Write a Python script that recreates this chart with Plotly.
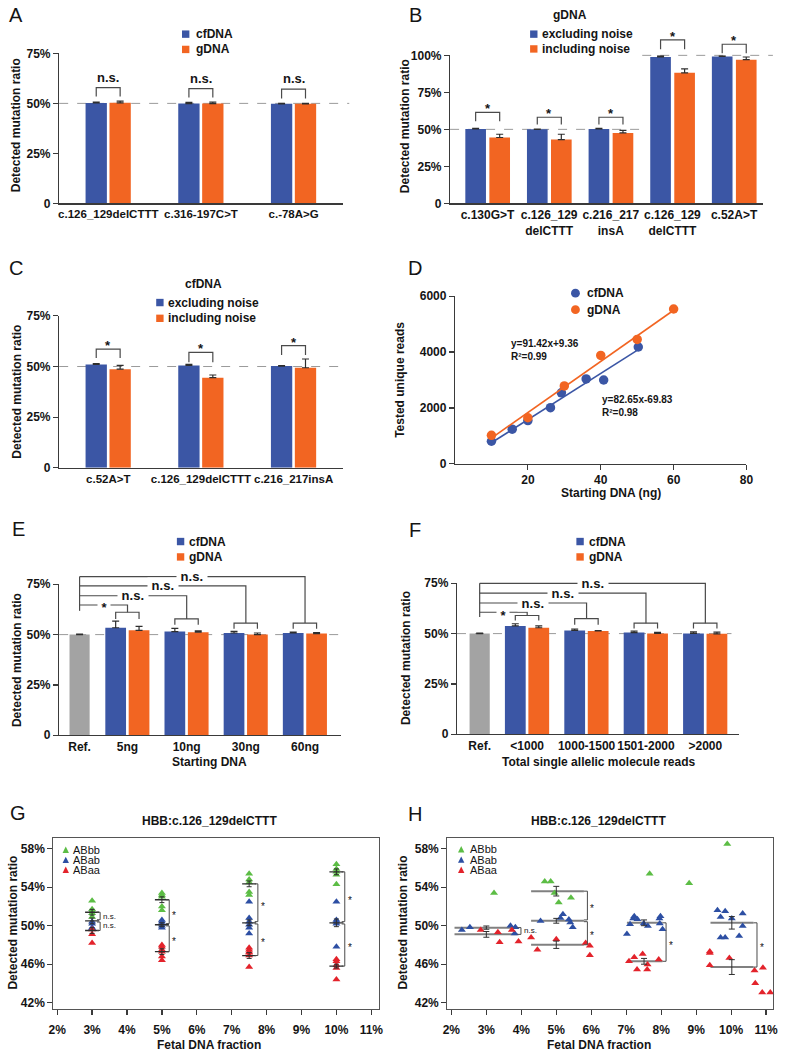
import plotly.graph_objects as go

W, H = 785, 1059
FONT = "Liberation Sans, Arial, Helvetica, sans-serif"
TXT = "#141414"
AXC = "#3a3a3a"
LINEC = "#4a4a4a"
BLUE = "#3b56a5"
ORANGE = "#f26522"
GREY = "#a3a3a3"
DASHC = "#9a9a9a"
ERRC = "#2e2e2e"
G_GREEN = "#5cbd45"
G_BLUE = "#2d4fa3"
G_RED = "#e3232b"

# ======================= DATA =======================
# A
A_CATS = ["c.126_129delCTTT", "c.316-197C>T", "c.-78A>G"]
A_CFDNA = [50.2, 49.9, 49.8]
A_CFDNA_ERR = [0.5, 0.6, 0.2]
A_GDNA = [50.3, 49.9, 49.8]
A_GDNA_ERR = [0.8, 0.7, 0.2]
A_SIG = ["n.s.", "n.s.", "n.s."]

# B (gDNA)
B_CATS = ["c.130G>T", "c.126_129\ndelCTTT", "c.216_217\ninsA", "c.126_129\ndelCTTT", "c.52A>T"]
B_EXCL = [50.3, 50.0, 50.3, 98.9, 99.3]
B_EXCL_ERR = [0.4, 0.2, 0.3, 0.8, 0.4]
B_INCL = [44.5, 43.1, 47.6, 88.2, 97.1]
B_INCL_ERR = [2.2, 3.6, 1.7, 2.7, 1.8]
B_SIG = ["*", "*", "*", "*", "*"]

# C (cfDNA)
C_CATS = ["c.52A>T", "c.126_129delCTTT", "c.216_217insA"]
C_EXCL = [51.0, 50.5, 50.2]
C_EXCL_ERR = [0.5, 0.6, 0.2]
C_INCL = [48.7, 44.5, 49.4]
C_INCL_ERR = [1.9, 1.3, 4.3]
C_SIG = ["*", "*", "*"]

# D
D_CF_X = [10, 15.7, 20, 26.2, 29.2, 36, 40.8, 50.3]
D_CF_Y = [810, 1240, 1550, 2010, 2540, 3040, 3000, 4180]
D_G_X = [10, 20, 30, 40, 50, 60]
D_G_Y = [1020, 1650, 2790, 3880, 4450, 5540]
D_CF_FIT = (82.65, -69.83, 0.98)
D_G_FIT = (91.42, 9.36, 0.99)

# E
E_CATS = ["Ref.", "5ng", "10ng", "30ng", "60ng"]
E_REF = 50.0
E_REF_ERR = 0.2
E_CF = [53.4, 51.5, 50.8, 50.8]
E_CF_ERR = [3.3, 1.6, 0.8, 0.5]
E_G = [52.1, 51.2, 50.0, 50.5]
E_G_ERR = [2.0, 0.6, 0.8, 0.5]
E_SIG = ["*", "n.s.", "n.s.", "n.s."]

# F
F_CATS = ["Ref.", "<1000", "1000-1500", "1501-2000", ">2000"]
F_REF = 50.0
F_REF_ERR = 0.2
F_CF = [53.8, 51.6, 50.5, 50.1]
F_CF_ERR = [1.1, 0.7, 0.7, 0.8]
F_G = [52.9, 51.3, 50.1, 49.9]
F_G_ERR = [0.9, 0.2, 0.5, 0.8]
F_SIG = ["*", "n.s.", "n.s.", "n.s."]

# G
GENOS = ["ABbb", "ABab", "ABaa"]
G_FRAC = [3, 5, 7.5, 10]
G_ABbb = [[52.6, 51.7, 51.5, 51.3, 50.9], [53.4, 53.2, 53.0, 52.0, 51.6],
          [55.4, 54.8, 54.5, 53.5, 53.2], [56.4, 55.9, 55.6, 55.3, 54.3]]
G_ABab = [[50.4, 50.2, 49.8, 49.7], [50.6, 50.4, 50.2, 50.0, 49.8],
          [52.5, 50.8, 50.4, 50.1, 49.8, 49.2], [52.5, 50.6, 50.4, 50.2, 47.8]]
G_ABaa = [[49.6, 49.1, 48.2], [48.0, 47.8, 47.5, 47.3, 46.8, 46.4],
          [47.7, 47.5, 47.3, 47.2, 46.9, 45.7], [46.5, 46.3, 45.9, 45.6, 44.4]]
G_MEAN = {"ABbb": [51.4, 52.7, 54.35, 55.6], "ABab": [50.5, 50.1, 50.3, 50.3], "ABaa": [49.5, 47.3, 46.9, 45.8]}
G_SE = {"ABbb": [0.3, 0.3, 0.3, 0.3], "ABab": [0.3, 0.2, 0.3, 0.4], "ABaa": [0.3, 0.3, 0.3, 0.2]}
G_SIG_UP = ["n.s.", "*", "*", "*"]
G_SIG_LO = ["n.s.", "*", "*", "*"]

# H
H_ABbb_X = [3.22, 4.67, 4.84, 4.95, 5.07, 5.42, 7.67, 8.80, 9.89]
H_ABbb_Y = [53.4, 54.6, 54.6, 53.4, 52.4, 52.9, 55.4, 54.4, 58.5]
H_ABab_X = [2.30, 2.53, 3.69, 3.83, 3.81, 4.55, 5.12, 5.19, 5.36, 5.40, 5.47,
            7.02, 7.11, 7.20, 7.23, 7.32, 7.50, 7.62, 7.95, 7.98, 7.96, 8.04,
            9.61, 9.70, 9.83, 9.70, 9.83, 10.02, 10.23, 10.33, 10.33]
H_ABab_Y = [49.56, 49.83, 50.0, 49.83, 49.2, 50.5, 50.8, 51.2, 50.65, 50.34, 49.83,
            49.15, 50.14, 50.75, 50.99, 50.68, 50.24, 49.97, 50.75, 50.99, 50.24, 49.62,
            51.6, 50.9, 51.5, 48.77, 48.77, 50.75, 48.94, 51.26, 49.97]
H_ABaa_X = [2.84, 3.33, 3.38, 3.73, 3.92, 4.28, 4.46, 5.0, 5.84, 5.96, 5.96,
            7.08, 7.23, 7.31, 7.47, 7.61, 7.60, 7.93,
            9.39, 9.39, 9.39, 9.95, 10.67, 10.91, 10.69, 10.89, 11.12]
H_ABaa_Y = [49.56, 49.32, 48.29, 49.56, 48.36, 48.77, 47.5, 48.6, 48.19, 47.91, 46.92,
            46.31, 46.72, 45.45, 47.06, 45.97, 45.45, 46.48,
            47.33, 47.16, 45.9, 46.65, 45.35, 45.62, 44.02, 43.06, 43.06]
H_GROUP_X = [3.0, 5.0, 7.51, 10.02]
H_MEAN = {"ABbb": [None, 53.59, None, None], "ABab": [49.8, 50.51, 50.3, 50.3], "ABaa": [49.1, 48.02, 46.3, 45.7]}
H_SE = {"ABbb": [None, 0.5, None, None], "ABab": [0.17, 0.25, 0.3, 0.65], "ABaa": [0.3, 0.38, 0.3, 0.77]}
H_SIG_UP = [None, "*", None, None]
H_SIG_LO = ["n.s.", "*", "*", "*"]

# ======================= GEOMETRY (layout only) =======================
PANELS = {
    "A": dict(ax=1, x0=55, x1=343, yt=47, yb=199, xr=(-0.53, 2.53), yr=(0, 75)),
    "B": dict(ax=2, x0=452, x1=770, yt=49, yb=199, xr=(-0.607, 4.473), yr=(0, 100)),
    "C": dict(ax=3, x0=55, x1=343, yt=313, yb=467, xr=(-0.53, 2.53), yr=(0, 75)),
    "D": dict(ax=4, x0=457, x1=753, yt=293, yb=463, xr=(0, 80), yr=(0, 6000)),
    "E": dict(ax=5, x0=55, x1=341, yt=585, yb=738, xr=(-0.155, 4.604), yr=(0, 75)),
    "F": dict(ax=6, x0=459, x1=745, yt=584, yb=737, xr=(-0.182, 4.56), yr=(0, 75)),
    "G": dict(ax=7, x0=49, x1=380, yt=842, yb=1015, xr=(1.887, 11.226), yr=(41.385, 59.13)),
    "H": dict(ax=8, x0=449, x1=780, yt=842, yb=1015, xr=(1.879, 11.2), yr=(41.385, 59.13)),
}
AC_BL_OFF, AC_OR_OFF, AC_W = -0.245, 0.013, 0.23
B_BL_OFF, B_OR_OFF, B_W = -0.36, 0.03, 0.335
EF_BL_OFF, EF_OR_OFF, EF_W = -0.375, 0.02, 0.35
EF_REF_W = 0.34
E_POS = [0.19, 1, 2, 3, 4]
F_POS = [0.2, 1, 2, 3, 4]

fig = go.Figure()
shapes, annotations = [], []


def refs(n):
    return ("x" if n == 1 else f"x{n}"), ("y" if n == 1 else f"y{n}")


def esc(s):
    return s.replace("<", "&lt;").replace(">", "&gt;").replace("\n", "<br>")


def to_paper(pn, x, y):
    g = PANELS[pn]
    fx = (x - g["xr"][0]) / (g["xr"][1] - g["xr"][0])
    fy = (y - g["yr"][0]) / (g["yr"][1] - g["yr"][0])
    px = g["x0"] + fx * (g["x1"] - g["x0"])
    py = g["yb"] - fy * (g["yb"] - g["yt"])
    return px / W, 1 - py / H


def poly(pn, pts, color=LINEC, width=1.2, dash=None, layer="above"):
    c = [to_paper(pn, x, y) for x, y in pts]
    path = "M " + " L ".join(f"{a:.5f},{b:.5f}" for a, b in c)
    shapes.append(dict(type="path", path=path, xref="paper", yref="paper", layer=layer,
                       line=dict(color=color, width=width, dash=dash)))


def txt(xp, yp, s, size=12, bold=True, color=TXT, xa="center", ya="middle", angle=0, bg=None, align="center"):
    annotations.append(dict(x=xp, y=yp, xref="paper", yref="paper", text=s, showarrow=False, align=align,
                            font=dict(family=FONT, size=size, color=color, weight="bold" if bold else "normal"),
                            xanchor=xa, yanchor=ya, textangle=angle, bgcolor=bg, borderpad=0))


def txt_px(px, py, s, **kw):
    txt(px / W, 1 - py / H, s, **kw)


def data_txt(pn, x, y, s, dy_px=0, **kw):
    a, b = to_paper(pn, x, y)
    txt(a, b + dy_px / H, s, **kw)


def sq_px(cx, cy, color, s=7.5):
    shapes.append(dict(type="rect", xref="paper", yref="paper", x0=(cx - s / 2) / W, x1=(cx + s / 2) / W,
                       y0=1 - (cy + s / 2) / H, y1=1 - (cy - s / 2) / H, fillcolor=color, line=dict(width=0)))


def circ_px(cx, cy, color, s=9):
    shapes.append(dict(type="circle", xref="paper", yref="paper", x0=(cx - s / 2) / W, x1=(cx + s / 2) / W,
                       y0=1 - (cy + s / 2) / H, y1=1 - (cy - s / 2) / H, fillcolor=color, line=dict(width=0)))


def tri_px(cx, cy, color, s=6.5):
    p = [(cx, cy - s / 2), (cx - s / 2, cy + s / 2), (cx + s / 2, cy + s / 2)]
    path = "M " + " L ".join(f"{x / W:.5f},{1 - y / H:.5f}" for x, y in p) + " Z"
    shapes.append(dict(type="path", path=path, xref="paper", yref="paper", fillcolor=color, line=dict(width=0)))


def add_bars(pn, pos, vals, errs, color, offset, width):
    xa, ya = refs(PANELS[pn]["ax"])
    fig.add_trace(go.Bar(x=pos, y=vals, xaxis=xa, yaxis=ya, offset=offset, width=width,
                         marker=dict(color=color, line=dict(width=0)), showlegend=False,
                         error_y=dict(type="data", symmetric=False, array=errs, arrayminus=[0] * len(errs),
                                      color=ERRC, thickness=1.2, width=3.5)))


def pair_brackets(pn, pos, off_b, off_o, w, tops, legs, sigs, dy):
    for i, p in enumerate(pos):
        xl, xr = p + off_b + w / 2, p + off_o + w / 2
        poly(pn, [(xl, legs[i]), (xl, tops[i]), (xr, tops[i]), (xr, legs[i])])
        data_txt(pn, (xl + xr) / 2, tops[i], sigs[i], dy_px=dy[sigs[i]], size=13)


SIG_DY = {"n.s.": 10.5, "*": 3.5}

# ---------------- Panel A ----------------
A_POS = list(range(len(A_CATS)))
add_bars("A", A_POS, A_CFDNA, A_CFDNA_ERR, BLUE, AC_BL_OFF, AC_W)
add_bars("A", A_POS, A_GDNA, A_GDNA_ERR, ORANGE, AC_OR_OFF, AC_W)
poly("A", [(PANELS["A"]["xr"][0], 50), (2.6, 50)], color=DASHC, width=1, dash="dash", layer="below")
pair_brackets("A", A_POS, AC_BL_OFF, AC_OR_OFF, AC_W, [57.9, 57.4, 57.1], [53.4, 52.9, 52.4], A_SIG, SIG_DY)

# ---------------- Panel B ----------------
B_POS = list(range(len(B_CATS)))
add_bars("B", B_POS, B_EXCL, B_EXCL_ERR, BLUE, B_BL_OFF, B_W)
add_bars("B", B_POS, B_INCL, B_INCL_ERR, ORANGE, B_OR_OFF, B_W)
poly("B", [(PANELS["B"]["xr"][0], 50), (2.51, 50)], color=DASHC, width=1, dash="dash", layer="below")
poly("B", [(2.51, 100), (4.63, 100)], color=DASHC, width=1, dash="dash", layer="below")
pair_brackets("B", B_POS, B_BL_OFF, B_OR_OFF, B_W, [61.5, 58.2, 58.2, 110.4, 107.5],
              [55.5, 53.3, 53.3, 104.2, 101.5], B_SIG, SIG_DY)

# ---------------- Panel C ----------------
C_POS = list(range(len(C_CATS)))
add_bars("C", C_POS, C_EXCL, C_EXCL_ERR, BLUE, AC_BL_OFF, AC_W)
add_bars("C", C_POS, C_INCL, C_INCL_ERR, ORANGE, AC_OR_OFF, AC_W)
poly("C", [(PANELS["C"]["xr"][0], 50), (2.5, 50)], color=DASHC, width=1, dash="dash", layer="below")
pair_brackets("C", C_POS, AC_BL_OFF, AC_OR_OFF, AC_W, [58.6, 57.0, 60.3], [54.2, 52.1, 55.7], C_SIG, SIG_DY)

# ---------------- Panel D ----------------
xa, ya = refs(4)
for (xs, ys, fit, col) in [(D_CF_X, D_CF_Y, D_CF_FIT, BLUE), (D_G_X, D_G_Y, D_G_FIT, ORANGE)]:
    fx = [min(xs), max(xs)]
    fig.add_trace(go.Scatter(x=fx, y=[fit[0] * v + fit[1] for v in fx], mode="lines", xaxis=xa, yaxis=ya,
                             line=dict(color=col, width=1.6), showlegend=False))
    fig.add_trace(go.Scatter(x=xs, y=ys, mode="markers", xaxis=xa, yaxis=ya, cliponaxis=False,
                             marker=dict(color=col, size=9.5, line=dict(width=0)), showlegend=False))
txt_px(513, 334, f"y={D_G_FIT[0]}x+{D_G_FIT[1]}<br>R²={D_G_FIT[2]}", size=10, xa="left", ya="top", align="left")
txt_px(605, 391, f"y={D_CF_FIT[0]}x{D_CF_FIT[1]}<br>R²={D_CF_FIT[2]}", size=10, xa="left", ya="top", align="left")

# ---------------- Panels E & F ----------------
def ef_panel(pn, pos, ref, ref_err, cf, cf_err, gg, gg_err, line_y, small_top, small_leg, ref_bottom, sigs, dash_end):
    add_bars(pn, [pos[0]], [ref], [ref_err], GREY, -EF_REF_W / 2, EF_REF_W)
    add_bars(pn, pos[1:], cf, cf_err, BLUE, EF_BL_OFF, EF_W)
    add_bars(pn, pos[1:], gg, gg_err, ORANGE, EF_OR_OFF, EF_W)
    poly(pn, [(PANELS[pn]["xr"][0], 50), (dash_end, 50)], color=DASHC, width=1, dash="dash", layer="below")
    rx = pos[0]
    poly(pn, [(rx, max(line_y)), (rx, ref_bottom)])
    for i, gx in enumerate(pos[1:]):
        poly(pn, [(rx, line_y[i]), (gx, line_y[i]), (gx, small_top[i])])
        xl, xr = gx + EF_BL_OFF + EF_W / 2, gx + EF_OR_OFF + EF_W / 2
        poly(pn, [(xl, small_leg[i]), (xl, small_top[i]), (xr, small_top[i]), (xr, small_leg[i])])
    for i, gx in enumerate(pos[1:]):
        s = sigs[i]
        data_txt(pn, (rx + gx) / 2, line_y[i], " " + s + " ", dy_px=(0 if s != "*" else -3), size=13, bg="white")


ef_panel("E", E_POS, E_REF, E_REF_ERR, E_CF, E_CF_ERR, E_G, E_G_ERR,
         [64.7, 69.3, 74.2, 78.8], [61.1, 57.8, 55.7, 55.7], [57.8, 54.9, 52.9, 52.9], 61.8, E_SIG, 4.59)
ef_panel("F", F_POS, F_REF, F_REF_ERR, F_CF, F_CF_ERR, F_G, F_G_ERR,
         [60.6, 65.2, 70.1, 75.0], [59.0, 57.4, 55.2, 55.2], [56.5, 54.4, 52.5, 52.5], 58.3, F_SIG, 4.44)

# ---------------- Panel G ----------------
xa, ya = refs(7)
G_VALS = {"ABbb": G_ABbb, "ABab": G_ABab, "ABaa": G_ABaa}
G_COL = {"ABbb": G_GREEN, "ABab": G_BLUE, "ABaa": G_RED}
for gname in GENOS:
    xs, ys = [], []
    for f, vals in zip(G_FRAC, G_VALS[gname]):
        xs += [f] * len(vals)
        ys += vals
    fig.add_trace(go.Scatter(x=xs, y=ys, mode="markers", xaxis=xa, yaxis=ya, showlegend=False,
                             marker=dict(symbol="triangle-up", size=7, color=G_COL[gname], line=dict(width=0))))
for gname in GENOS:
    fig.add_trace(go.Scatter(x=G_FRAC, y=G_MEAN[gname], mode="markers", xaxis=xa, yaxis=ya, showlegend=False,
                             marker=dict(symbol="line-ew", size=10, color=ERRC, line=dict(width=1.3, color=ERRC)),
                             error_y=dict(type="data", array=G_SE[gname], color=ERRC, thickness=1, width=2.5)))
G_BR_X = [3.23, 5.21, 7.75, 10.24]
tick = 0.09
for i, bx in enumerate(G_BR_X):
    hi, mid, lo = G_MEAN["ABbb"][i], G_MEAN["ABab"][i], G_MEAN["ABaa"][i]
    gap = 0.12
    poly("G", [(bx - tick, hi), (bx, hi), (bx, mid + gap), (bx - tick, mid + gap)], width=1)
    poly("G", [(bx - tick, mid - gap), (bx, mid - gap), (bx, lo), (bx - tick, lo)], width=1)
    for s, yv in [(G_SIG_UP[i], (hi + mid) / 2), (G_SIG_LO[i], (mid + lo) / 2)]:
        if s == "n.s.":
            data_txt("G", bx + 0.06, yv, s, size=8, bold=False, xa="left")
        else:
            data_txt("G", bx + 0.15, yv, s, dy_px=-3, size=10, bold=False)

# ---------------- Panel H ----------------
xa, ya = refs(8)
H_PTS = {"ABbb": (H_ABbb_X, H_ABbb_Y), "ABab": (H_ABab_X, H_ABab_Y), "ABaa": (H_ABaa_X, H_ABaa_Y)}
H_SPAN = [(2.09, 3.92), (4.28, 5.75), (7.02, 8.14), (9.41, 10.63)]
H_BR_X = [3.99, 5.89, 8.14, 10.74]
for gname in GENOS:
    lx, ly = [], []
    for i, m in enumerate(H_MEAN[gname]):
        if m is None:
            continue
        lx += [H_SPAN[i][0], H_BR_X[i] - 0.1, None]
        ly += [m, m, None]
    if lx:
        fig.add_trace(go.Scatter(x=lx, y=ly, mode="lines", xaxis=xa, yaxis=ya, showlegend=False,
                                 line=dict(color="#808080", width=2)))
for gname in GENOS:
    xs, ys = H_PTS[gname]
    fig.add_trace(go.Scatter(x=xs, y=ys, mode="markers", xaxis=xa, yaxis=ya, showlegend=False, cliponaxis=False,
                             marker=dict(symbol="triangle-up", size=7, color=G_COL[gname], line=dict(width=0))))
for gname in GENOS:
    mx = [x for x, m in zip(H_GROUP_X, H_MEAN[gname]) if m is not None]
    my = [m for m in H_MEAN[gname] if m is not None]
    se = [s for s in H_SE[gname] if s is not None]
    fig.add_trace(go.Scatter(x=mx, y=my, mode="markers", xaxis=xa, yaxis=ya, showlegend=False,
                             marker=dict(size=1, color="rgba(0,0,0,0)"),
                             error_y=dict(type="data", array=se, color=ERRC, thickness=1, width=3)))
for i, bx in enumerate(H_BR_X):
    hi, mid, lo = H_MEAN["ABbb"][i], H_MEAN["ABab"][i], H_MEAN["ABaa"][i]
    gap = 0.09
    if hi is not None:
        poly("H", [(bx - 0.1, hi), (bx, hi), (bx, mid + gap), (bx - 0.1, mid + gap)], width=1)
        data_txt("H", bx + 0.14, (hi + mid) / 2, H_SIG_UP[i], dy_px=-3, size=10, bold=False)
        poly("H", [(bx - 0.1, mid - gap), (bx, mid - gap), (bx, lo), (bx - 0.1, lo)], width=1)
    else:
        poly("H", [(bx - 0.1, mid), (bx, mid), (bx, lo), (bx - 0.1, lo)], width=1)
    s = H_SIG_LO[i]
    if s == "n.s.":
        data_txt("H", bx + 0.06, (mid + lo) / 2, s, size=8, bold=False, xa="left")
    else:
        data_txt("H", bx + 0.14, (mid + lo) / 2, s, dy_px=-3, size=10, bold=False)

# ======================= AXES =======================
layout_axes = {}


def tf(size=12):
    return dict(family=FONT, size=size, color=TXT, weight="bold")


def set_axes(pn, xt, xtt, yt, ytt, xticks="", box=False, xfont=12, xstand=None):
    g = PANELS[pn]
    n = g["ax"]
    xk = "xaxis" if n == 1 else f"xaxis{n}"
    yk = "yaxis" if n == 1 else f"yaxis{n}"
    xa, ya = refs(n)
    common = dict(showgrid=False, zeroline=False, showline=True, linecolor=AXC, linewidth=1.2,
                  tickcolor=AXC, tickwidth=1.2, ticklen=5, mirror=box, fixedrange=True)
    layout_axes[xk] = dict(domain=[g["x0"] / W, g["x1"] / W], range=list(g["xr"]), anchor=ya,
                           tickmode="array", tickvals=xt, ticktext=xtt, ticks=xticks, tickangle=0,
                           tickfont=tf(xfont), **common)
    if xstand is not None:
        layout_axes[xk]["ticklabelstandoff"] = xstand
    layout_axes[yk] = dict(domain=[1 - g["yb"] / H, 1 - g["yt"] / H], range=list(g["yr"]), anchor=xa,
                           tickmode="array", tickvals=yt, ticktext=ytt, ticks="outside", tickfont=tf(12), **common)


PCT75 = ([0, 25, 50, 75], ["0", "25%", "50%", "75%"])
set_axes("A", A_POS, [esc(c) for c in A_CATS], *PCT75, xfont=11.5)
set_axes("B", B_POS, [esc(c) for c in B_CATS], [0, 25, 50, 75, 100], ["0", "25%", "50%", "75%", "100%"])
set_axes("C", C_POS, [esc(c) for c in C_CATS], *PCT75, xfont=11.5)
set_axes("D", [20, 40, 60, 80], ["20", "40", "60", "80"], [0, 2000, 4000, 6000], ["0", "2000", "4000", "6000"],
         xticks="outside", xstand=0)
set_axes("E", E_POS, [esc(c) for c in E_CATS], *PCT75)
set_axes("F", F_POS, [esc(c) for c in F_CATS], *PCT75)
PCTX = list(range(2, 12))
set_axes("G", PCTX, [f"{v}%" for v in PCTX], [42, 46, 50, 54, 58], ["42%", "46%", "50%", "54%", "58%"],
         xticks="outside", box=True, xstand=5)
set_axes("H", PCTX, [f"{v}%" for v in PCTX], [42, 46, 50, 54, 58], ["42%", "46%", "50%", "54%", "58%"],
         xticks="outside", box=True, xstand=5)
for k in ["xaxis7", "yaxis7", "xaxis8", "yaxis8"]:
    layout_axes[k]["linecolor"] = "#555555"
    layout_axes[k]["linewidth"] = 1

# ======================= TEXT: labels, titles, legends =======================
for lab, (x, y) in {"A": (11.5, 8), "B": (417, 8), "C": (11.5, 264), "D": (416, 265),
                    "E": (14, 529), "F": (416, 530), "G": (13.5, 817), "H": (416.5, 817.5)}.items():
    txt_px(x, y, lab, size=20, bold=False)

YT = "Detected mutation ratio"
for (x, y, s) in [(12, 120, YT), (407, 121, YT), (12, 390, YT), (401, 378, "Tested unique reads"),
                  (12, 662, YT), (407, 660, YT), (8, 928, YT), (404, 928, YT)]:
    txt_px(x, y, s, angle=-90)

txt_px(615, 493, "Starting DNA (ng)")
txt_px(207.5, 765, "Starting DNA")
txt_px(603, 765, "Total single allelic molecule reads")
txt_px(207.5, 1052, "Fetal DNA fraction")
txt_px(603, 1052, "Fetal DNA fraction")
txt_px(574, 8, "gDNA")
txt_px(201.7, 281, "cfDNA")
txt_px(208, 825, "HBB:c.126_129delCTTT")
txt_px(603, 825, "HBB:c.126_129delCTTT")

# legends
for (cx, cy1, cy2, tx, l1, l2) in [(183.5, 27.5, 43, 192.7, "cfDNA", "gDNA"),
                                    (537, 27.5, 42.5, 544, "excluding noise", "including noise"),
                                    (157.3, 299.5, 315.5, 165, "excluding noise", "including noise"),
                                    (178.3, 541.7, 557.3, 186, "cfDNA", "gDNA"),
                                    (584, 541.7, 557.3, 591.7, "cfDNA", "gDNA")]:
    sq_px(cx, cy1, BLUE)
    sq_px(cx, cy2, ORANGE)
    txt_px(tx, cy1, l1, xa="left")
    txt_px(tx, cy2, l2, xa="left")
circ_px(579.3, 290, BLUE)
circ_px(579.3, 306.7, ORANGE)
txt_px(590, 290, "cfDNA", xa="left")
txt_px(590, 306.7, "gDNA", xa="left")
for (cx, tx, ys) in [(61.7, 68.3, (854, 864.3, 874.3)), (463.3, 471.7, (853.5, 864, 874.3))]:
    for gname, yy in zip(GENOS, ys):
        tri_px(cx, yy, G_COL[gname])
        txt_px(tx, yy, gname, size=11, bold=False, xa="left")

fig.update_layout(width=W, height=H, margin=dict(l=0, r=0, t=0, b=0), autosize=False,
                  paper_bgcolor="white", plot_bgcolor="rgba(0,0,0,0)", barmode="overlay",
                  showlegend=False, font=dict(family=FONT, color=TXT),
                  shapes=shapes, annotations=annotations, **layout_axes)
fig.write_html("out.html", config={"displayModeBar": False, "staticPlot": True},
               post_script="document.body.style.margin='0px';document.body.style.overflow='hidden';")
